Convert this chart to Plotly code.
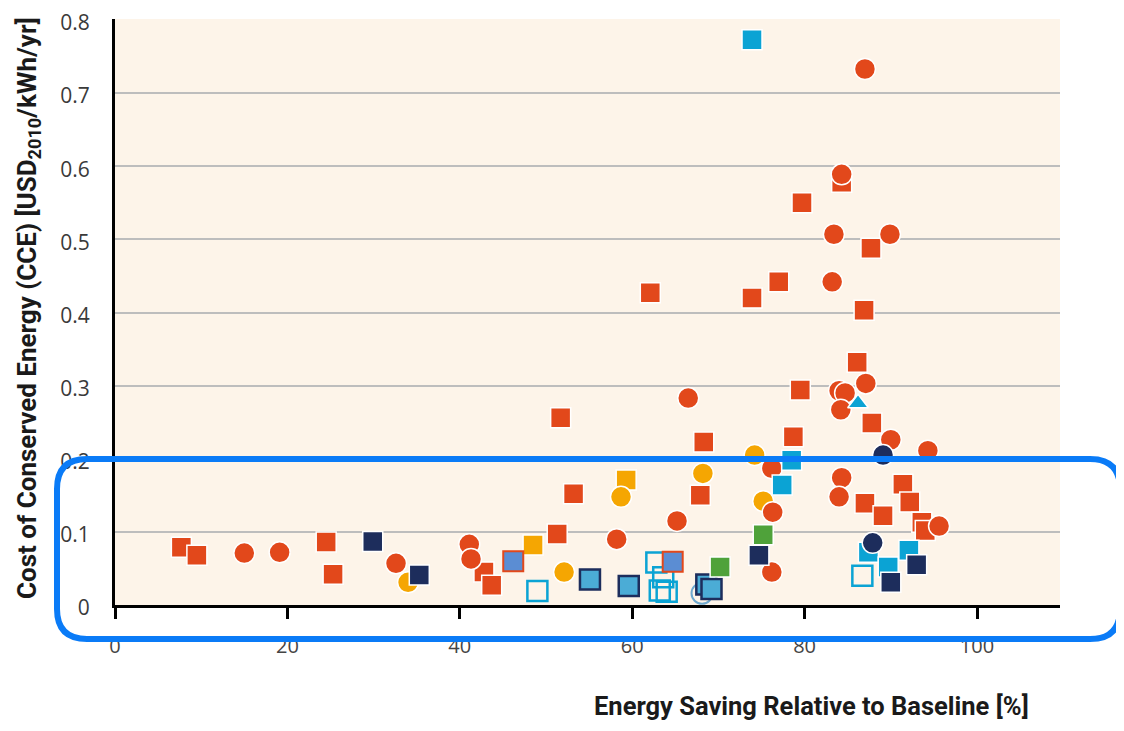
import plotly.graph_objects as go

# ---------------- data ----------------
orange_sq_x = [7.7, 9.5, 24.5, 25.3, 42.8, 43.7, 51.3, 51.7, 53.2, 62.1, 67.9, 68.3, 73.9, 77.0, 78.7, 79.5,
               79.7, 84.3, 86.1, 86.9, 87.7, 87.8, 87.0, 89.1, 91.4, 92.2, 93.6, 94.0]
orange_sq_y = [0.079, 0.068, 0.086, 0.042, 0.045, 0.027, 0.097, 0.256, 0.152, 0.427, 0.150, 0.223, 0.420, 0.442, 0.230, 0.294,
               0.550, 0.578, 0.332, 0.403, 0.488, 0.249, 0.139, 0.122, 0.165, 0.141, 0.113, 0.102]

orange_ci_x = [15.0, 19.1, 32.6, 41.1, 41.3, 58.2, 65.2, 66.5, 76.2, 76.3, 76.2, 83.2, 83.4, 84.3, 87.0, 89.9,
               84.0, 84.7, 84.2, 87.1, 90.0, 94.3, 84.3, 84.0, 95.6]
orange_ci_y = [0.071, 0.072, 0.057, 0.083, 0.063, 0.090, 0.115, 0.283, 0.187, 0.127, 0.045, 0.442, 0.507, 0.589, 0.733, 0.507,
               0.293, 0.290, 0.267, 0.303, 0.226, 0.211, 0.174, 0.148, 0.108]

amber_ci_x = [34.0, 52.1, 58.7, 68.2, 74.2, 75.2]
amber_ci_y = [0.031, 0.045, 0.148, 0.180, 0.205, 0.142]

amber_sq_x = [48.5, 59.3]
amber_sq_y = [0.082, 0.171]

cyan_sq_x = [54.0, 60.1, 73.9, 77.4, 78.5, 87.4, 89.7, 92.1]
cyan_sq_y = [-0.005, -0.005, 0.773, 0.164, 0.198, 0.072, 0.052, 0.075]

cyan_tri_x = [86.2]
cyan_tri_y = [0.276]

navy_sq_x = [29.9, 35.3, 74.7, 90.0, 93.0]
navy_sq_y = [0.087, 0.041, 0.068, 0.031, 0.055]

navy_ci_x = [89.1, 87.9]
navy_ci_y = [0.205, 0.085]

green_sq_x = [70.2, 75.2]
green_sq_y = [0.052, 0.096]

midblue_sq_x = [46.2, 64.7]
midblue_sq_y = [0.060, 0.059]

ltblue_sq_x = [55.1, 59.6, 68.6, 69.2]
ltblue_sq_y = [0.035, 0.026, 0.028, 0.022]

hollow_sq_x = [49.0, 62.8, 63.6, 63.2, 64.0, 86.7]
hollow_sq_y = [0.019, 0.058, 0.038, 0.020, 0.018, 0.040]

hollow_ci_x = [68.1]
hollow_ci_y = [0.016]

x_ticks = [0, 20, 40, 60, 80, 100]
y_ticks = [0, 0.1, 0.2, 0.3, 0.4, 0.5, 0.6, 0.7, 0.8]
y_tick_text = ["0", "0.1", "0.2", "0.3", "0.4", "0.5", "0.6", "0.7", "0.8"]

# ---------------- styling ----------------
ORANGE = "#E2481B"
AMBER = "#F5A602"
CYAN = "#0BA3D4"
NAVY = "#1D2D5C"
GREEN = "#4FA23A"
MIDBLUE = "#5B8DD3"
LTBLUE = "#4BACD6"
CREAM = "#FDF4E9"

fig = go.Figure()


def add(xs, ys, symbol, color, size=20, line_color="white", line_width=1.5):
    fig.add_trace(go.Scatter(
        x=xs, y=ys, mode="markers", cliponaxis=False, showlegend=False,
        marker=dict(symbol=symbol, color=color, size=size,
                    line=dict(color=line_color, width=line_width)),
        hoverinfo="x+y"))


add(amber_sq_x, amber_sq_y, "square", AMBER)
add(amber_ci_x, amber_ci_y, "circle", AMBER, size=21)
add(orange_sq_x, orange_sq_y, "square", ORANGE)
add(orange_ci_x, orange_ci_y, "circle", ORANGE, size=21)
add(hollow_sq_x, hollow_sq_y, "square-open", CYAN, line_color=CYAN, line_width=2.5)
add(hollow_ci_x, hollow_ci_y, "circle-open", "#6FA9CF", size=21, line_color="#6FA9CF", line_width=2)
add(cyan_sq_x, cyan_sq_y, "square", CYAN)
add(cyan_tri_x, cyan_tri_y, "triangle-up", CYAN, size=18)
add(midblue_sq_x, midblue_sq_y, "square", MIDBLUE, line_color=ORANGE, line_width=2)
add(ltblue_sq_x, ltblue_sq_y, "square", LTBLUE, line_color=NAVY, line_width=2.5)
add(green_sq_x, green_sq_y, "square", GREEN)
add(navy_sq_x, navy_sq_y, "square", NAVY)
add(navy_ci_x, navy_ci_y, "circle", NAVY, size=21)

# ---------------- layout ----------------
# the page body has an 8px margin, so the figure is placed at (8, 8)
OFF = 8
W, H = 1124 - 2 * OFF, 731 - 2 * OFF
PLOT_L, PLOT_T, PLOT_R, PLOT_B = 115, 19, 1060, 605   # target page pixels of plot area
L = PLOT_L - OFF
T = PLOT_T - OFF
PW = PLOT_R - PLOT_L
PH = PLOT_B - PLOT_T
R = W - L - PW
B = H - T - PH
Y_TOP = 0.8 * PH / (PLOT_B - 20)   # 0.8 sits at page y = 20


def px2x(px):
    return (px - PLOT_L) / PW


def py2y(py):
    return (PLOT_B - py) / PH


FONT_TITLE = "Roboto, Open Sans, sans-serif"
FONT_TICK = "Open Sans, Noto Sans, sans-serif"

fig.update_layout(
    width=W, height=H,
    margin=dict(l=L, r=R, t=T, b=B, pad=0, autoexpand=False),
    paper_bgcolor="white",
    plot_bgcolor=CREAM,
    xaxis=dict(
        range=[0, PW / 8.62], tickvals=x_ticks, showgrid=False, zeroline=False,
        showline=True, linecolor="black", linewidth=3,
        ticks="outside", ticklen=11, tickwidth=3, tickcolor="black",
        tickfont=dict(family=FONT_TICK, size=20, color="#444444"),
        ticklabelstandoff=10, automargin=False,
    ),
    yaxis=dict(
        range=[0, Y_TOP], tickvals=y_ticks, ticktext=y_tick_text,
        showgrid=True, gridcolor="#BDBDBD", gridwidth=1.5, zeroline=False,
        showline=True, linecolor="black", linewidth=3, ticks="",
        tickfont=dict(family=FONT_TICK, size=21, color="#3a3a3a"),
        ticklabelstandoff=18, ticklabelshift=3, ticklabeloverflow="allow", automargin=False,
    ),
)

fig.add_annotation(
    xref="paper", yref="paper", x=px2x(28), y=py2y(308), textangle=-90,
    text="Cost of Conserved Energy (CCE) [USD<sub>2010</sub>/kWh/yr]",
    showarrow=False, xanchor="center", yanchor="middle",
    font=dict(family=FONT_TITLE, size=26, color="#1a1a1a", weight="bold"),
)
fig.add_annotation(
    xref="paper", yref="paper", x=px2x(811), y=py2y(706),
    text="Energy Saving Relative to Baseline [%]",
    showarrow=False, xanchor="center", yanchor="middle",
    font=dict(family=FONT_TITLE, size=25.5, color="#1a1a1a", weight="bold"),
)

# highlight rounded rectangle
lx, rx, ty, by, rad = 57, 1120, 459, 639, 30
pts = dict(
    x0=px2x(lx), x1=px2x(lx + rad), x2=px2x(rx - rad), x3=px2x(rx),
    y0=py2y(ty), y1=py2y(ty + rad), y2=py2y(by - rad), y3=py2y(by),
)
path = (f"M {pts['x1']},{pts['y0']} L {pts['x2']},{pts['y0']} "
        f"Q {pts['x3']},{pts['y0']} {pts['x3']},{pts['y1']} "
        f"L {pts['x3']},{pts['y2']} Q {pts['x3']},{pts['y3']} {pts['x2']},{pts['y3']} "
        f"L {pts['x1']},{pts['y3']} Q {pts['x0']},{pts['y3']} {pts['x0']},{pts['y2']} "
        f"L {pts['x0']},{pts['y1']} Q {pts['x0']},{pts['y0']} {pts['x1']},{pts['y0']} Z")
fig.add_shape(type="path", xref="paper", yref="paper", path=path,
              line=dict(color="#0A7BF7", width=6), fillcolor="rgba(0,0,0,0)", layer="above")

fig.write_html("out.html")
